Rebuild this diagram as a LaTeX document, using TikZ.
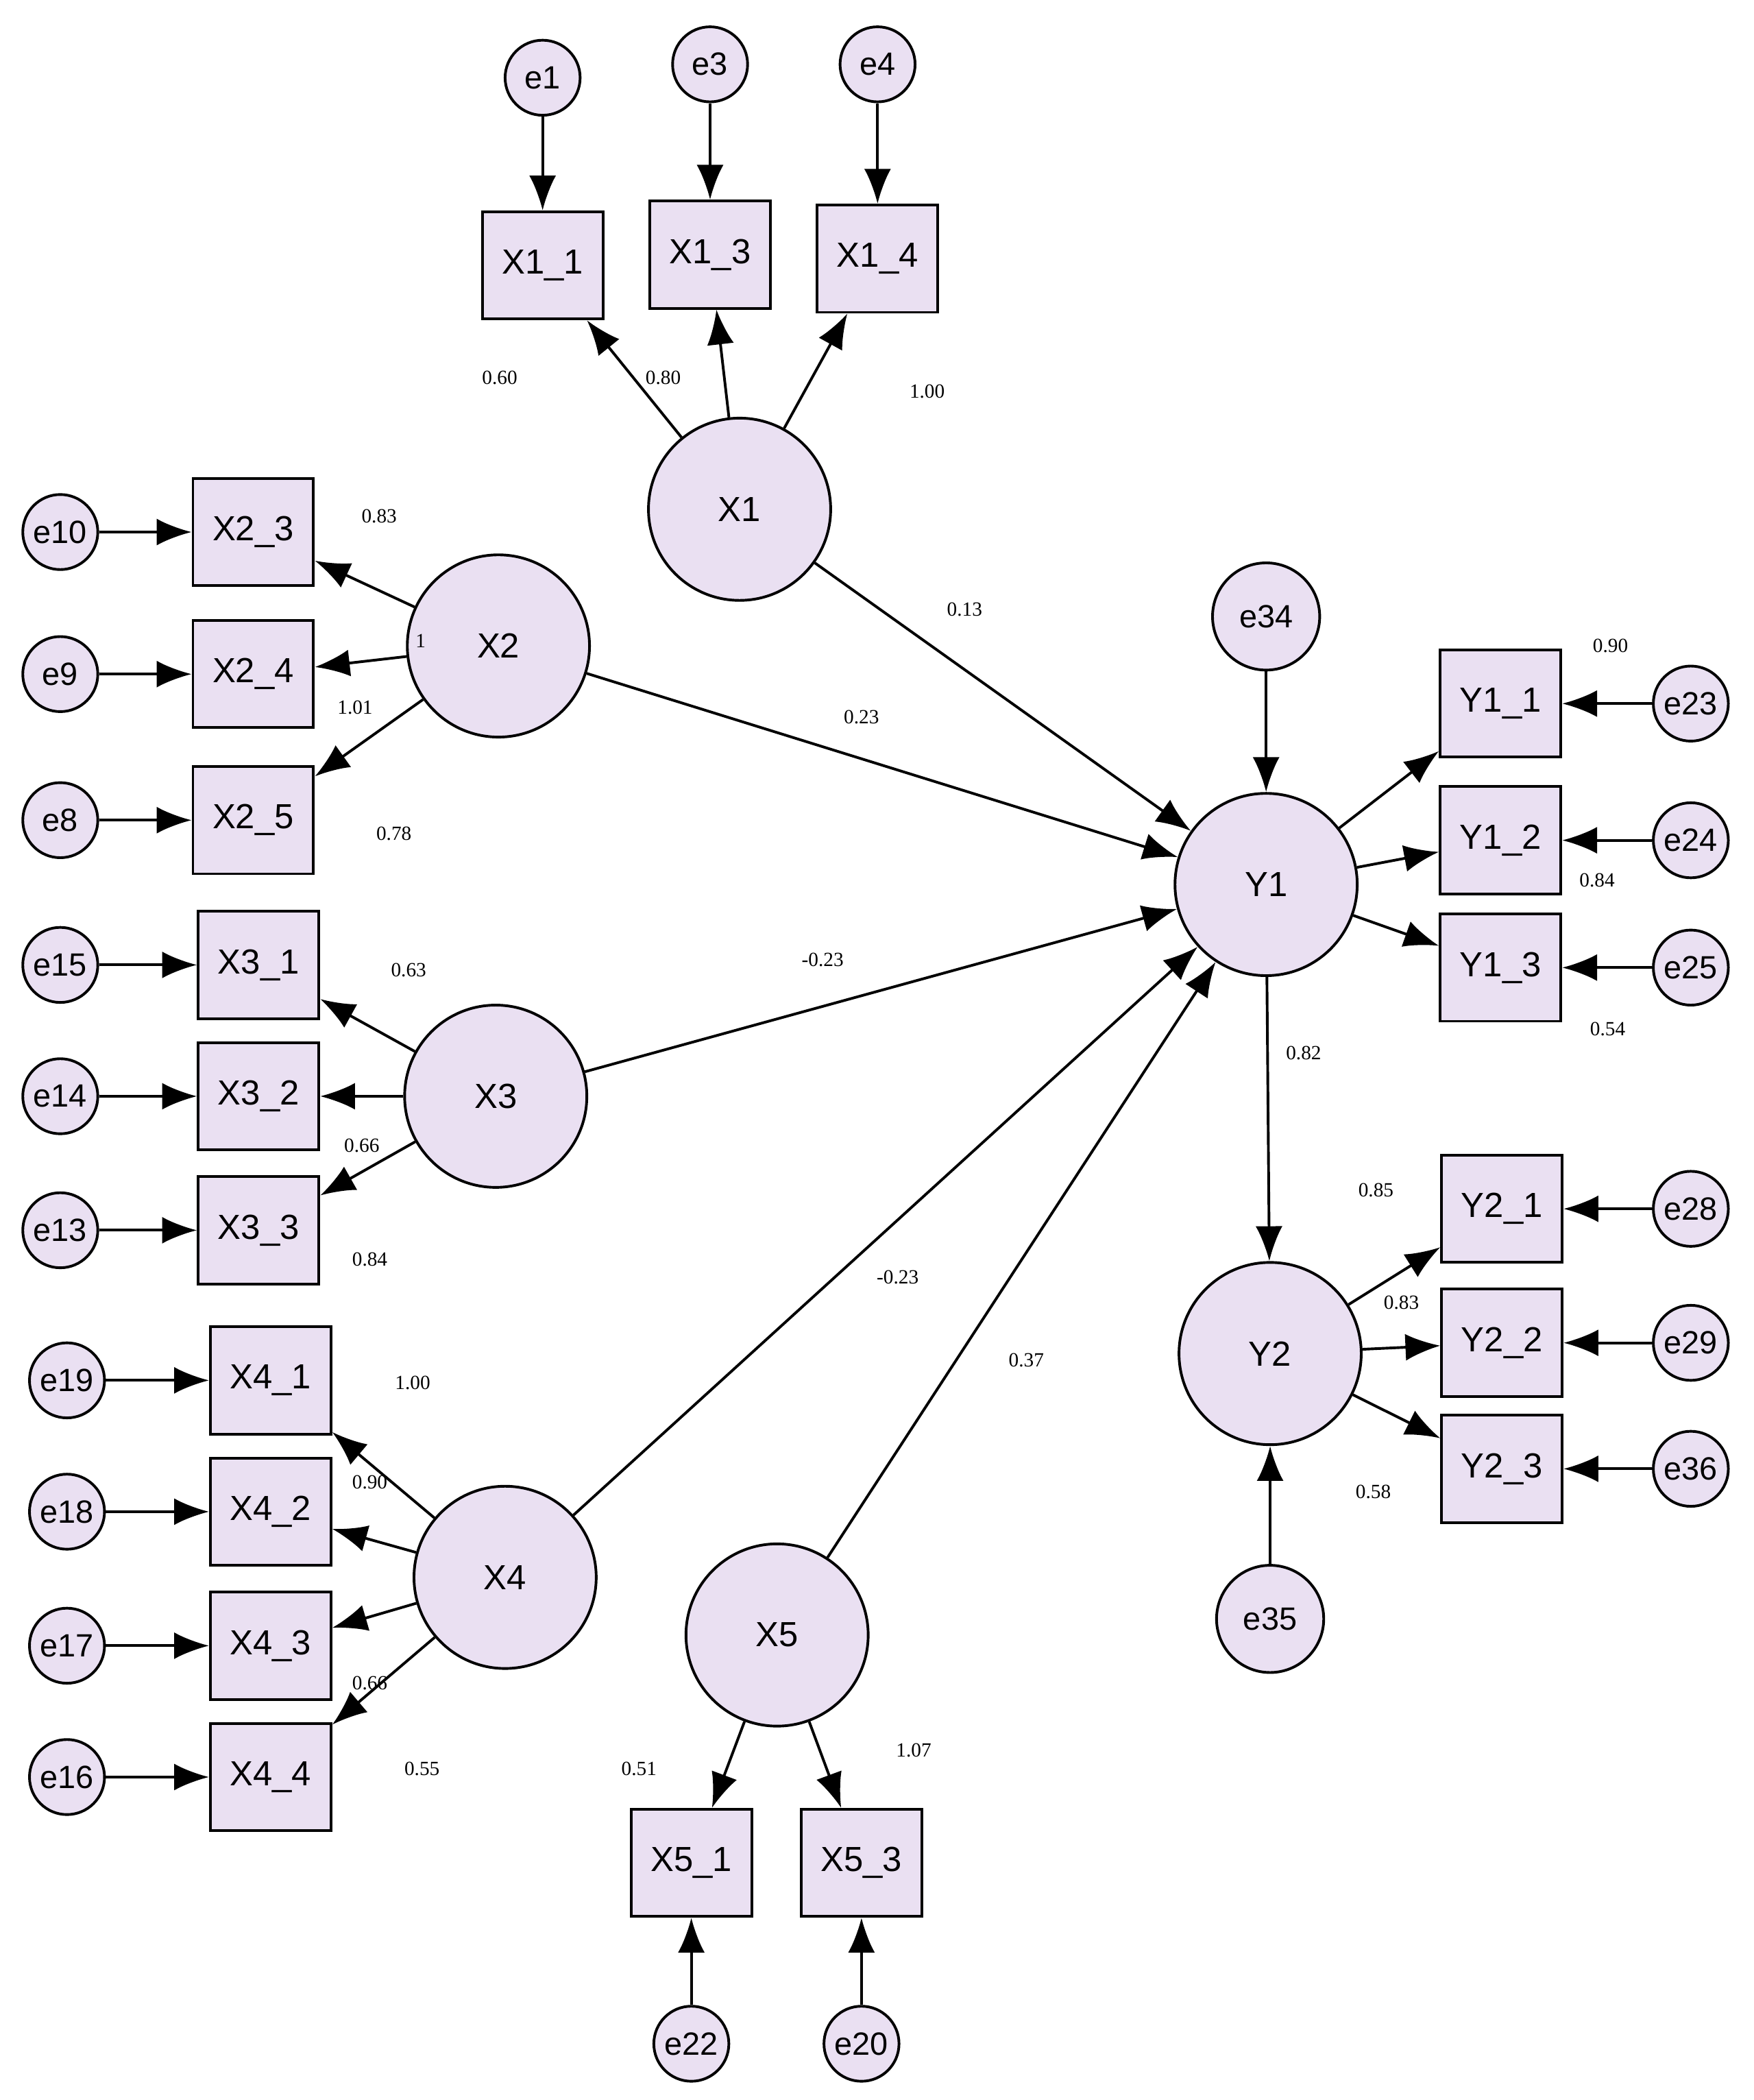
\documentclass[tikz,border=0pt]{standalone}
\usepackage{fontspec}
\setmainfont{Liberation Sans}
\newfontfamily\lblfont{Liberation Serif}
\usetikzlibrary{arrows.meta}
\definecolor{nf}{RGB}{234,224,242}
\begin{document}
\begin{tikzpicture}[x=1pt,y=-1pt,
  lat/.style={circle,draw,line width=2pt,fill=nf,minimum size=136pt,inner sep=0pt,font=\fontsize{26}{30}\selectfont},
  err/.style={circle,draw,line width=2pt,fill=nf,minimum size=56pt,inner sep=0pt,font=\fontsize{24}{28}\selectfont},
  errb/.style={err,minimum size=80pt},
  obs/.style={rectangle,draw,line width=2pt,fill=nf,minimum width=90pt,minimum height=80pt,inner sep=0pt,font=\fontsize{26}{30}\selectfont},
  arr/.style={draw,line width=2pt,-{Latex[length=26pt,width=20pt]}},
  lbl/.style={font=\lblfont\fontsize{15}{18}\selectfont}]
\useasboundingbox (0,0) rectangle (1309,1567);
% X1
\node[lat] (X1) at (552,380) {X1};
\foreach \n/\t/\x/\y/\e/\ey in {X11/X1\_1/405/198/e1/58, X13/X1\_3/530/190/e3/48, X14/X1\_4/655/193/e4/48}{
  \node[obs] (\n) at (\x,\y) {\t};
  \node[err] (\e) at (\x,\ey) {\e};
  \draw[arr] (\e) -- (\n);
  \draw[arr] (X1) -- (\n);}
% X2
\node[lat] (X2) at (372,482) {X2};
\foreach \n/\t/\y/\e in {X23/X2\_3/397/e10, X24/X2\_4/503/e9, X25/X2\_5/612/e8}{
  \node[obs] (\n) at (189,\y) {\t};
  \node[err] (\e) at (45,\y) {\e};
  \draw[arr] (\e) -- (\n);
  \draw[arr] (X2) -- (\n);}
% X3
\node[lat] (X3) at (370,818) {X3};
\foreach \n/\t/\y/\e in {X31/X3\_1/720/e15, X32/X3\_2/818/e14, X33/X3\_3/918/e13}{
  \node[obs] (\n) at (193,\y) {\t};
  \node[err] (\e) at (45,\y) {\e};
  \draw[arr] (\e) -- (\n);
  \draw[arr] (X3) -- (\n);}
% X4
\node[lat] (X4) at (377,1177) {X4};
\foreach \n/\t/\y/\e in {X41/X4\_1/1030/e19, X42/X4\_2/1128/e18, X43/X4\_3/1228/e17, X44/X4\_4/1326/e16}{
  \node[obs] (\n) at (202,\y) {\t};
  \node[err] (\e) at (50,\y) {\e};
  \draw[arr] (\e) -- (\n);
  \draw[arr] (X4) -- (\n);}
% X5
\node[lat] (X5) at (580,1220) {X5};
\foreach \n/\t/\x/\e in {X51/X5\_1/516/e22, X53/X5\_3/643/e20}{
  \node[obs] (\n) at (\x,1390) {\t};
  \node[err] (\e) at (\x,1525) {\e};
  \draw[arr] (\e) -- (\n);
  \draw[arr] (X5) -- (\n);}
% Y1
\node[lat] (Y1) at (945,660) {Y1};
\node[errb] (e34) at (945,460) {e34};
\draw[arr] (e34) -- (Y1);
\foreach \n/\t/\y/\e in {Y11/Y1\_1/525/e23, Y12/Y1\_2/627/e24, Y13/Y1\_3/722/e25}{
  \node[obs] (\n) at (1120,\y) {\t};
  \node[err] (\e) at (1262,\y) {\e};
  \draw[arr] (\e) -- (\n);
  \draw[arr] (Y1) -- (\n);}
% Y2
\node[lat] (Y2) at (948,1010) {Y2};
\node[errb] (e35) at (948,1208) {e35};
\draw[arr] (e35) -- (Y2);
\foreach \n/\t/\y/\e in {Y21/Y2\_1/902/e28, Y22/Y2\_2/1002/e29, Y23/Y2\_3/1096/e36}{
  \node[obs] (\n) at (1121,\y) {\t};
  \node[err] (\e) at (1262,\y) {\e};
  \draw[arr] (\e) -- (\n);
  \draw[arr] (Y2) -- (\n);}
% structural
\foreach \s in {X1,X2,X3,X4,X5}{\draw[arr] (\s) -- (Y1);}
\draw[arr] (Y1) -- (Y2);
% labels
\foreach \t/\x/\y in {0.60/373/282, 0.80/495/282, 1.00/692/292,
  0.83/283/385, 1/314/478, 1.01/265/528, 0.78/294/622,
  0.63/305/724, 0.66/270/855, 0.84/276/940,
  1.00/308/1032, 0.90/276/1106, 0.66/276/1256, 0.55/315/1320,
  0.51/477/1320, 1.07/682/1306,
  0.90/1202/482, 0.84/1192/657, 0.54/1200/768,
  0.85/1027/888, 0.83/1046/972, 0.58/1025/1113,
  0.13/720/455, 0.23/643/535, -0.23/614/716, -0.23/670/953, 0.37/766/1015, 0.82/973/786}
  {\node[lbl] (l\x-\y) at (\x,\y) {\t};}
\end{tikzpicture}
\end{document}
